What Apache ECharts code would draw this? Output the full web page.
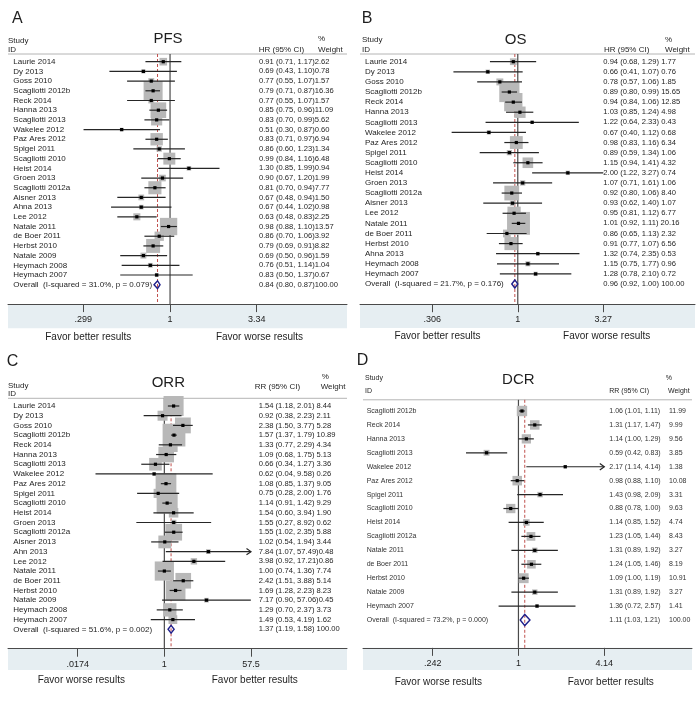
<!DOCTYPE html>
<html>
<head>
<meta charset="utf-8">
<title>Forest plots</title>
<script src="https://cdn.jsdelivr.net/npm/echarts@6/dist/echarts.min.js"></script>
<style>
    html, body { margin: 0; padding: 0; background: #fff; }
    #main { width: 700px; height: 702px; }
</style>
</head>
<body>
<div id="main"></div>
<script>
// ---------- A: PFS ----------
var pfsStudies = ['Laurie 2014', 'Dy 2013', 'Goss 2010', 'Scagliotti 2012b', 'Reck 2014', 'Hanna 2013',
    'Scagliotti 2013', 'Wakelee 2012', 'Paz Ares 2012', 'Spigel 2011', 'Scagliotti 2010', 'Heist 2014',
    'Groen 2013', 'Scagliotti 2012a', 'Aisner 2013', 'Ahna 2013', 'Lee 2012', 'Natale 2011', 'de Boer 2011',
    'Herbst 2010', 'Natale 2009', 'Heymach 2008', 'Heymach 2007'];
var pfsHR = [0.91, 0.69, 0.77, 0.79, 0.77, 0.85, 0.83, 0.51, 0.83, 0.86, 0.99, 1.30, 0.90, 0.81, 0.67, 0.67, 0.63, 0.98, 0.86, 0.79, 0.69, 0.76, 0.83];
var pfsLower = [0.71, 0.43, 0.55, 0.71, 0.55, 0.75, 0.70, 0.30, 0.71, 0.60, 0.84, 0.85, 0.67, 0.70, 0.48, 0.44, 0.48, 0.88, 0.70, 0.69, 0.50, 0.51, 0.50];
var pfsUpper = [1.17, 1.10, 1.07, 0.87, 1.07, 0.96, 0.99, 0.87, 0.97, 1.23, 1.16, 1.99, 1.20, 0.94, 0.94, 1.02, 0.83, 1.10, 1.06, 0.91, 0.96, 1.14, 1.37];
var pfsWeight = [2.62, 0.78, 1.57, 16.36, 1.57, 11.09, 5.62, 0.60, 6.94, 1.34, 6.48, 0.94, 1.99, 7.77, 1.50, 0.98, 2.25, 13.57, 3.92, 8.82, 1.59, 1.04, 0.67];
var pfsOverall = [0.84, 0.80, 0.87, 100];
var pfsHeterogeneity = 'Overall  (I-squared = 31.0%, p = 0.079)';
var pfsTicks = [0.299, 1, 3.34];
var pfsTickLabels = ['.299', '1', '3.34'];
var pfsFavor = ['Favor better results', 'Favor worse results'];
var pfsArrows = [];

// ---------- B: OS ----------
var osStudies = ['Laurie 2014', 'Dy 2013', 'Goss 2010', 'Scagliotti 2012b', 'Reck 2014', 'Hanna 2013',
    'Scagliotti 2013', 'Wakelee 2012', 'Paz Ares 2012', 'Spigel 2011', 'Scagliotti 2010', 'Heist 2014',
    'Groen 2013', 'Scagliotti 2012a', 'Aisner 2013', 'Lee 2012', 'Natale 2011', 'de Boer 2011',
    'Herbst 2010', 'Ahna 2013', 'Heymach 2008', 'Heymach 2007'];
var osHR = [0.94, 0.66, 0.78, 0.89, 0.94, 1.03, 1.22, 0.67, 0.98, 0.89, 1.15, 2.00, 1.07, 0.92, 0.93, 0.95, 1.01, 0.86, 0.91, 1.32, 1.15, 1.28];
var osLower = [0.68, 0.41, 0.57, 0.80, 0.84, 0.85, 0.64, 0.40, 0.83, 0.59, 0.94, 1.22, 0.71, 0.80, 0.62, 0.81, 0.92, 0.65, 0.77, 0.74, 0.75, 0.78];
var osUpper = [1.29, 1.07, 1.06, 0.99, 1.06, 1.24, 2.33, 1.12, 1.16, 1.34, 1.41, 3.27, 1.61, 1.06, 1.40, 1.12, 1.11, 1.13, 1.07, 2.35, 1.77, 2.10];
var osWeight = [1.77, 0.76, 1.85, 15.65, 12.85, 4.98, 0.43, 0.68, 6.34, 1.06, 4.32, 0.74, 1.06, 8.40, 1.07, 6.77, 20.16, 2.32, 6.56, 0.53, 0.96, 0.72];
var osOverall = [0.96, 0.92, 1.00, 100];
var osHeterogeneity = 'Overall  (I-squared = 21.7%, p = 0.176)';
var osTicks = [0.306, 1, 3.27];
var osTickLabels = ['.306', '1', '3.27'];
var osFavor = ['Favor better results', 'Favor worse results'];
var osArrows = [];

// ---------- C: ORR ----------
var orrStudies = ['Laurie 2014', 'Dy 2013', 'Goss 2010', 'Scagliotti 2012b', 'Reck 2014', 'Hanna 2013',
    'Scagliotti 2013', 'Wakelee 2012', 'Paz Ares 2012', 'Spigel 2011', 'Scagliotti 2010', 'Heist 2014',
    'Groen 2013', 'Scagliotti 2012a', 'Aisner 2013', 'Ahn 2013', 'Lee 2012', 'Natale 2011', 'de Boer 2011',
    'Herbst 2010', 'Natale 2009', 'Heymach 2008', 'Heymach 2007'];
var orrRR = [1.54, 0.92, 2.38, 1.57, 1.33, 1.09, 0.66, 0.62, 1.08, 0.75, 1.14, 1.54, 1.55, 1.55, 1.02, 7.84, 3.98, 1.00, 2.42, 1.69, 7.17, 1.29, 1.49];
var orrLower = [1.18, 0.38, 1.50, 1.37, 0.77, 0.68, 0.34, 0.04, 0.85, 0.28, 0.91, 0.60, 0.27, 1.02, 0.54, 1.07, 0.92, 0.74, 1.51, 1.28, 0.90, 0.70, 0.53];
var orrUpper = [2.01, 2.23, 3.77, 1.79, 2.29, 1.75, 1.27, 9.58, 1.37, 2.00, 1.42, 3.94, 8.92, 2.35, 1.94, 57.49, 17.21, 1.36, 3.88, 2.23, 57.06, 2.37, 4.19];
var orrWeight = [8.44, 2.11, 5.28, 10.89, 4.34, 5.13, 3.36, 0.26, 9.05, 1.76, 9.29, 1.90, 0.62, 5.88, 3.44, 0.48, 0.86, 7.74, 5.14, 8.23, 0.45, 3.73, 1.62];
var orrOverall = [1.37, 1.19, 1.58, 100];
var orrHeterogeneity = 'Overall  (I-squared = 51.6%, p = 0.002)';
var orrTicks = [0.0174, 1, 57.5];
var orrTickLabels = ['.0174', '1', '57.5'];
var orrFavor = ['Favor worse results', 'Favor better results'];
var orrArrows = ['Ahn 2013'];

// ---------- D: DCR ----------
var dcrStudies = ['Scagliotti 2012b', 'Reck 2014', 'Hanna 2013', 'Scagliotti 2013', 'Wakelee 2012',
    'Paz Ares 2012', 'Spigel 2011', 'Scagliotti 2010', 'Heist 2014', 'Scagliotti 2012a', 'Natale 2011',
    'de Boer 2011', 'Herbst 2010', 'Natale 2009', 'Heymach 2007'];
var dcrRR = [1.06, 1.31, 1.14, 0.59, 2.17, 0.98, 1.43, 0.88, 1.14, 1.23, 1.31, 1.24, 1.09, 1.31, 1.36];
var dcrLower = [1.01, 1.17, 1.00, 0.42, 1.14, 0.88, 0.98, 0.78, 0.85, 1.05, 0.89, 1.05, 1.00, 0.89, 0.72];
var dcrUpper = [1.11, 1.47, 1.29, 0.83, 4.14, 1.10, 2.09, 1.00, 1.52, 1.44, 1.92, 1.46, 1.19, 1.92, 2.57];
var dcrWeight = [11.99, 9.99, 9.56, 3.85, 1.38, 10.08, 3.31, 9.63, 4.74, 8.43, 3.27, 8.19, 10.91, 3.27, 1.41];
var dcrOverall = [1.11, 1.03, 1.21, 100];
var dcrHeterogeneity = 'Overall  (I-squared = 73.2%, p = 0.000)';
var dcrTicks = [0.242, 1, 4.14];
var dcrTickLabels = ['.242', '1', '4.14'];
var dcrFavor = ['Favor worse results', 'Favor better results'];
var dcrArrows = ['Wakelee 2012'];

// ---------- layout ----------
var FONT = '"Liberation Sans", Arial, Helvetica, sans-serif';

var panels = [
    {
        letter: 'A', title: 'PFS', effect: 'HR (95% CI)',
        studies: pfsStudies, est: pfsHR, lower: pfsLower, upper: pfsUpper, weight: pfsWeight,
        overall: pfsOverall, het: pfsHeterogeneity, ticks: pfsTicks, tickLabels: pfsTickLabels,
        favor: pfsFavor, arrows: pfsArrows,
        left: 8, right: 347, headerY: 54, firstRow: 61.7, overallRow: 284.7, bandBottom: 328.3,
        tickLoX: 83.3, tickHiX: 256.7, nameMargin: 5.3, textX: 259, joinSpace: false,
        fontSize: 8, ciSize: 7.6, color: '#1e1e1e', boxScale: 4.7,
        letterXY: [12, 18.5], titleXY: [168, 39], studyXY: [8, 41], idXY: [8, 49.5],
        effXY: [258.7, 49.5], pctXY: [318, 39], wXY: [318, 49.5], favorX: [88.3, 259.5], favorY: 337
    },
    {
        letter: 'B', title: 'OS', effect: 'HR (95% CI)',
        studies: osStudies, est: osHR, lower: osLower, upper: osUpper, weight: osWeight,
        overall: osOverall, het: osHeterogeneity, ticks: osTicks, tickLabels: osTickLabels,
        favor: osFavor, arrows: osArrows,
        left: 360, right: 695, headerY: 54, firstRow: 61.7, overallRow: 284, bandBottom: 328,
        tickLoX: 432.3, tickHiX: 603.3, nameMargin: 5, textX: 603.3, joinSpace: true,
        fontSize: 8, ciSize: 7.6, color: '#1e1e1e', boxScale: 5.1,
        letterXY: [361.7, 18.5], titleXY: [515.7, 39.5], studyXY: [362, 39.5], idXY: [362, 49.3],
        effXY: [604, 49.3], pctXY: [665, 39.5], wXY: [665, 49.3], favorX: [437.5, 606.7], favorY: 336.7
    },
    {
        letter: 'C', title: 'ORR', effect: 'RR (95% CI)',
        studies: orrStudies, est: orrRR, lower: orrLower, upper: orrUpper, weight: orrWeight,
        overall: orrOverall, het: orrHeterogeneity, ticks: orrTicks, tickLabels: orrTickLabels,
        favor: orrFavor, arrows: orrArrows,
        left: 8, right: 347, headerY: 398.3, firstRow: 406, overallRow: 629.3, bandBottom: 670,
        tickLoX: 77.7, tickHiX: 251, nameMargin: 5.3, textX: 258.7, joinSpace: true,
        fontSize: 8, ciSize: 7.6, color: '#1e1e1e', boxScale: 6.9,
        letterXY: [6.7, 361.7], titleXY: [168.3, 383], studyXY: [8, 385.3], idXY: [8, 393.7],
        effXY: [254.7, 387], pctXY: [321.7, 376.5], wXY: [320.7, 387], favorX: [81.3, 254.8], favorY: 680.7
    },
    {
        letter: 'D', title: 'DCR', effect: 'RR (95% CI)',
        studies: dcrStudies, est: dcrRR, lower: dcrLower, upper: dcrUpper, weight: dcrWeight,
        overall: dcrOverall, het: dcrHeterogeneity, ticks: dcrTicks, tickLabels: dcrTickLabels,
        favor: dcrFavor, arrows: dcrArrows,
        left: 363, right: 692, headerY: 399.8, firstRow: 411, overallRow: 620, bandBottom: 670,
        tickLoX: 432.7, tickHiX: 604.3, nameMargin: 3.7, textX: 609.3, weightX: 669,
        fontSize: 7, ciSize: 7, color: '#333', boxScale: 3.0,
        letterXY: [356.7, 361], titleXY: [518.3, 380], studyXY: [365, 377.7], idXY: [365, 391],
        effXY: [609.3, 391], pctXY: [665.7, 378], wXY: [668, 391], favorX: [438.3, 610.8], favorY: 682.7
    }
];

function ciText(e, l, u) {
    return e.toFixed(2) + ' (' + l.toFixed(2) + ', ' + u.toFixed(2) + ')';
}

function joinCols(p, ci, w) {
    if (p.weightX) return ci + '\t' + w;
    return ci + (p.joinSpace && ci.length < 18 ? ' ' : '') + w;
}

function logRange(p) {
    var a = Math.log10(p.ticks[0]), b = Math.log10(p.ticks[p.ticks.length - 1]);
    var ppd = (p.tickHiX - p.tickLoX) / (b - a);
    return [Math.pow(10, a - (p.tickLoX - p.left) / ppd), Math.pow(10, b + (p.right - p.tickHiX) / ppd)];
}

var grids = [], xAxes = [], yAxes = [], series = [], graphics = [];

panels.forEach(function (p, i) {
    var n = p.studies.length;
    var step = (p.overallRow - p.firstRow) / n;
    var top = p.firstRow - step;
    var bottom = p.overallRow + 2 * step;
    var lastIdx = n + 3;
    var range = logRange(p);

    var names = [''].concat(p.studies, [p.het, '', '']);
    var texts = p.studies.map(function (s, k) {
        return joinCols(p, ciText(p.est[k], p.lower[k], p.upper[k]), p.weight[k].toFixed(2));
    });
    texts.push(joinCols(p, ciText(p.overall[0], p.overall[1], p.overall[2]), p.overall[3].toFixed(2)));
    texts = [''].concat(texts, ['', '']);

    grids.push({ left: p.left, top: top, width: p.right - p.left, height: bottom - top, outerBoundsMode: 'none' });

    xAxes.push({
        type: 'log', logBase: 10, gridIndex: i, min: range[0], max: range[1],
        axisLine: { show: true, onZero: false, lineStyle: { color: '#4a4a4a', width: 1 } },
        axisTick: { show: true, inside: false, length: 8, customValues: p.ticks, lineStyle: { color: '#4a4a4a' } },
        axisLabel: {
            show: true, customValues: p.ticks, margin: 11, fontSize: 9, fontFamily: FONT, color: '#222',
            formatter: function (v) {
                for (var k = 0; k < p.ticks.length; k++) {
                    if (Math.abs(v / p.ticks[k] - 1) < 1e-6) return p.tickLabels[k];
                }
                return '';
            }
        },
        splitLine: { show: false }
    });

    yAxes.push({
        type: 'category', gridIndex: i, data: names, inverse: true, boundaryGap: false, position: 'left',
        axisLine: { show: false }, axisTick: { show: false }, splitLine: { show: false },
        axisLabel: { inside: true, interval: 0, margin: p.nameMargin, align: 'left', fontSize: p.fontSize, fontFamily: FONT, color: p.color }
    });
    var rightLabel = {
        inside: true, interval: 0, margin: p.right - p.textX, align: 'left',
        fontSize: p.ciSize, fontFamily: FONT, color: p.color
    };
    if (p.weightX) {
        rightLabel.formatter = function (v) {
            var parts = v.split('\t');
            return parts.length === 2 ? '{c|' + parts[0] + '}{w|' + parts[1] + '}' : v;
        };
        rightLabel.rich = {
            c: { width: p.weightX - p.textX, fontSize: p.ciSize, fontFamily: FONT, color: p.color },
            w: { fontSize: p.ciSize, fontFamily: FONT, color: p.color }
        };
    }
    yAxes.push({
        type: 'category', gridIndex: i, data: texts, inverse: true, boundaryGap: false, position: 'right',
        axisLine: { show: false }, axisTick: { show: false }, splitLine: { show: false },
        axisLabel: rightLabel
    });

    var rows = p.studies.map(function (s, k) {
        return [p.est[k], p.lower[k], p.upper[k], p.weight[k], k + 1, p.arrows.indexOf(s) >= 0 ? 1 : 0];
    });

    // null line and pooled-estimate line, from the header rule down to the axis
    series.push({
        type: 'custom', name: p.title + ' reference', xAxisIndex: i, yAxisIndex: 2 * i, z: 1, silent: true,
        encode: { x: 0, y: 1 },
        data: [[1, 0, 0], [p.overall[0], 0, 1]],
        renderItem: function (params, api) {
            var a = api.coord([api.value(0), 0]);
            var b = api.coord([api.value(0), lastIdx]);
            var dashed = api.value(2) === 1;
            var y0 = a[1] + (p.headerY - top);
            return {
                type: 'line',
                shape: { x1: a[0], y1: y0, x2: b[0], y2: b[1] },
                style: dashed ? { stroke: '#c0504d', lineWidth: 1, lineDash: [3, 2] }
                              : { stroke: '#4a4a4a', lineWidth: 1.2 }
            };
        }
    });

    // weight boxes
    series.push({
        type: 'custom', name: p.title + ' weights', xAxisIndex: i, yAxisIndex: 2 * i, z: 2, silent: true,
        encode: { x: [0, 1, 2], y: 4 },
        data: rows,
        renderItem: function (params, api) {
            var c = api.coord([api.value(0), api.value(4)]);
            var s = p.boxScale * Math.sqrt(api.value(3));
            return { type: 'rect', shape: { x: c[0] - s / 2, y: c[1] - s / 2, width: s, height: s }, style: { fill: '#b8b8b8' } };
        }
    });

    // confidence intervals and point estimates
    series.push({
        type: 'custom', name: p.title + ' CI', xAxisIndex: i, yAxisIndex: 2 * i, z: 3, silent: true,
        encode: { x: [0, 1, 2], y: 4 },
        data: rows,
        renderItem: function (params, api) {
            var y = api.value(4);
            var lo = api.coord([api.value(1), y]);
            var hi = api.coord([api.value(2), y]);
            var pt = api.coord([api.value(0), y]);
            var kids = [
                { type: 'line', shape: { x1: lo[0], y1: lo[1], x2: hi[0], y2: hi[1] }, style: { stroke: '#262626', lineWidth: 1.2 } },
                { type: 'rect', shape: { x: pt[0] - 1.6, y: pt[1] - 1.6, width: 3.2, height: 3.2 }, style: { fill: '#000' } }
            ];
            if (api.value(5) === 1) {
                kids.push({
                    type: 'polyline',
                    shape: { points: [[hi[0] - 4.5, hi[1] - 3.2], [hi[0], hi[1]], [hi[0] - 4.5, hi[1] + 3.2]] },
                    style: { stroke: '#262626', lineWidth: 1.2, fill: null }
                });
            }
            return { type: 'group', children: kids };
        }
    });

    // pooled diamond
    series.push({
        type: 'custom', name: p.title + ' overall', xAxisIndex: i, yAxisIndex: 2 * i, z: 3, silent: true,
        encode: { x: [0, 1, 2], y: 3 },
        data: [[p.overall[0], p.overall[1], p.overall[2], n + 1]],
        renderItem: function (params, api) {
            var y = api.value(3);
            var e = api.coord([api.value(0), y]);
            var l = api.coord([api.value(1), y]);
            var u = api.coord([api.value(2), y]);
            var h = api.size([0, 1])[1] * 0.4;
            return {
                type: 'polygon',
                shape: { points: [[l[0], e[1]], [e[0], e[1] - h], [u[0], e[1]], [e[0], e[1] + h]] },
                style: { stroke: '#1f1f8a', lineWidth: 1.4, fill: null }
            };
        }
    });

    // axis band, header rule, headings and captions
    graphics.push({
        type: 'rect', z: -10, silent: true,
        shape: { x: p.left, y: bottom, width: p.right - p.left, height: p.bandBottom - bottom },
        style: { fill: '#e6eef2' }
    });
    graphics.push({
        type: 'line', silent: true,
        shape: { x1: p.left, y1: p.headerY, x2: p.right, y2: p.headerY },
        style: { stroke: '#b4b4b4', lineWidth: 1 }
    });
    function txt(s, xy, size, align) {
        graphics.push({
            type: 'text', x: xy[0], y: xy[1], silent: true,
            style: { text: s, fontSize: size, fontFamily: FONT, fill: '#1e1e1e', textAlign: align || 'left', textVerticalAlign: 'middle' }
        });
    }
    txt(p.letter, p.letterXY, 16);
    txt(p.title, p.titleXY, 15, 'center');
    txt('Study', p.studyXY, p.fontSize);
    txt('ID', p.idXY, p.fontSize);
    txt(p.effect, p.effXY, p.fontSize);
    txt('%', p.pctXY, p.fontSize);
    txt('Weight', p.wXY, p.fontSize);
    txt(p.favor[0], [p.favorX[0], p.favorY], 10, 'center');
    txt(p.favor[1], [p.favorX[1], p.favorY], 10, 'center');
});

var chart = echarts.init(document.getElementById('main'));
chart.setOption({
    animation: false,
    backgroundColor: '#fff',
    grid: grids,
    xAxis: xAxes,
    yAxis: yAxes,
    series: series,
    graphic: { elements: graphics }
});
</script>
</body>
</html>
